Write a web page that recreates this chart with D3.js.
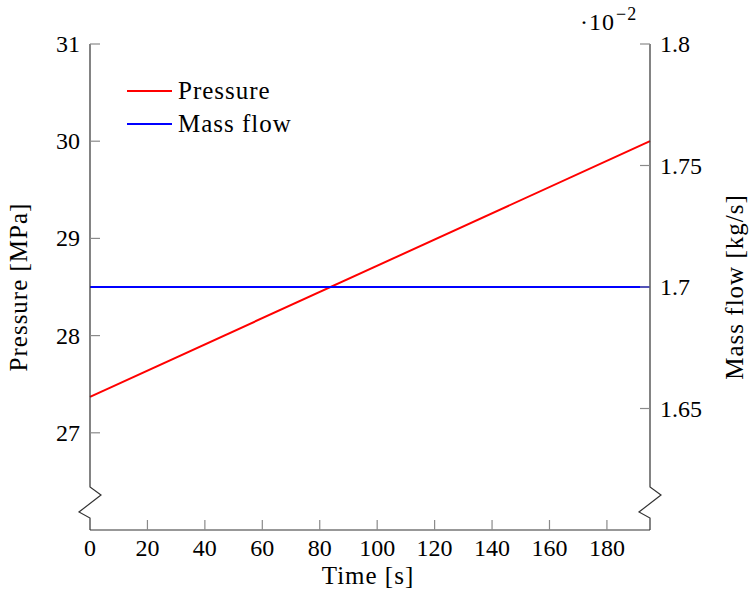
<!DOCTYPE html>
<html>
<head>
<meta charset="utf-8">
<script src="https://cdn.jsdelivr.net/npm/d3@7"></script>
<style>
  html, body { margin: 0; padding: 0; background: #fff; }
</style>
</head>
<body>
<svg id="chart" width="751" height="600"></svg>
<script>
// Time series: pressure (left axis) and mass flow (right axis)
const time = [0, 195];
const pressure = [27.37, 30.0];      // MPa
const massFlow = [0.017, 0.017];     // kg/s
const seriesNames = ["Pressure", "Mass flow"];
const seriesColors = ["#ff0000", "#0000ff"];

const xTicks = [0, 20, 40, 60, 80, 100, 120, 140, 160, 180];
const leftTicks = [27, 28, 29, 30, 31];
const rightTicks = [0.0165, 0.017, 0.0175, 0.018];

const serif = "'Liberation Serif', 'Times New Roman', serif";

const svg = d3.select("#chart");
const plot = { left: 90, right: 650, top: 44, bottom: 530 };

const x = d3.scaleLinear().domain([0, 195]).range([plot.left, plot.right]);
const yL = d3.scaleLinear().domain([26, 31]).range([plot.bottom, plot.top]);
const yR = d3.scaleLinear().domain([0.016, 0.018]).range([plot.bottom, plot.top]);

const tickFont = 24;
const textFont = 25;
const tickLen = 10;
const tickColor = "#8a8a8a";
const axisColor = "#333";

// Data lines
const pts = time.map((t, i) => ({ t, p: pressure[i], m: massFlow[i] }));
svg.append("path")
  .datum(pts)
  .attr("fill", "none")
  .attr("stroke", seriesColors[0])
  .attr("stroke-width", 2)
  .attr("d", d3.line().x(d => x(d.t)).y(d => yL(d.p)));
svg.append("path")
  .datum(pts)
  .attr("fill", "none")
  .attr("stroke", seriesColors[1])
  .attr("stroke-width", 2)
  .attr("d", d3.line().x(d => x(d.t)).y(d => yR(d.m)));

function tickLabel(sel) {
  return sel.style("font-family", serif).attr("font-size", tickFont).attr("fill", "#000");
}
function wordLabel(sel) {
  return sel.style("font-family", serif).attr("font-size", textFont)
    .attr("letter-spacing", 1).attr("fill", "#000");
}

// Bottom axis
const gx = svg.append("g");
gx.append("line")
  .attr("x1", plot.left).attr("x2", plot.right)
  .attr("y1", plot.bottom).attr("y2", plot.bottom)
  .attr("stroke", axisColor).attr("stroke-width", 1.2);
gx.selectAll("line.tick").data(xTicks.filter(v => v > 0)).join("line")
  .attr("class", "tick")
  .attr("x1", d => x(d)).attr("x2", d => x(d))
  .attr("y1", plot.bottom).attr("y2", plot.bottom - tickLen)
  .attr("stroke", tickColor).attr("stroke-width", 1.2);
gx.selectAll("text").data(xTicks).join("text")
  .call(tickLabel)
  .attr("x", d => x(d)).attr("y", plot.bottom + 26)
  .attr("text-anchor", "middle")
  .text(d => d);

// Vertical axis with a "crunch" break near the bottom
function brokenAxis(ax) {
  const brkTop = plot.bottom - 43, brkBot = plot.bottom - 12;
  const path = d3.path();
  path.moveTo(ax, plot.top);
  path.lineTo(ax, brkTop);
  path.lineTo(ax + 11, brkTop + 8);
  path.lineTo(ax - 11, brkTop + 25);
  path.lineTo(ax, brkBot);
  path.lineTo(ax, plot.bottom);
  svg.append("path").attr("d", path.toString())
    .attr("fill", "none").attr("stroke", axisColor).attr("stroke-width", 1.2);
}
brokenAxis(plot.left);
brokenAxis(plot.right);

// Left ticks and labels
svg.append("g").selectAll("line").data(leftTicks).join("line")
  .attr("x1", plot.left).attr("x2", plot.left + tickLen)
  .attr("y1", d => yL(d)).attr("y2", d => yL(d))
  .attr("stroke", tickColor).attr("stroke-width", 1.2);
svg.append("g").selectAll("text").data(leftTicks).join("text")
  .call(tickLabel)
  .attr("x", plot.left - 10).attr("y", d => yL(d) + 8)
  .attr("text-anchor", "end")
  .text(d => d);

// Right ticks and labels (shown in units of 10^-2)
const fmtR = v => String(+(v * 100).toFixed(2));
svg.append("g").selectAll("line").data(rightTicks).join("line")
  .attr("x1", plot.right).attr("x2", plot.right - tickLen)
  .attr("y1", d => yR(d)).attr("y2", d => yR(d))
  .attr("stroke", tickColor).attr("stroke-width", 1.2);
svg.append("g").selectAll("text").data(rightTicks).join("text")
  .call(tickLabel)
  .attr("x", plot.right + 10).attr("y", d => yR(d) + 8)
  .attr("text-anchor", "start")
  .text(fmtR);

// Scale factor label
const exp = svg.append("text").call(tickLabel).attr("x", 580).attr("y", 30)
  .attr("letter-spacing", 1);
exp.append("tspan").text("·10");
exp.append("tspan").attr("dx", 1).attr("dy", -10).attr("font-size", 18).text("−2");

// Axis titles
svg.append("text").call(wordLabel)
  .attr("x", 368).attr("y", 584)
  .attr("text-anchor", "middle")
  .text("Time [s]");
svg.append("text").call(wordLabel)
  .attr("transform", `translate(27,${(plot.top + plot.bottom) / 2}) rotate(-90)`)
  .attr("text-anchor", "middle")
  .text("Pressure [MPa]");
svg.append("text").call(wordLabel)
  .attr("transform", `translate(743,${(plot.top + plot.bottom) / 2}) rotate(-90)`)
  .attr("text-anchor", "middle")
  .text("Mass flow [kg/s]");

// Legend
const legend = svg.append("g");
seriesNames.forEach((name, i) => {
  const ly = 91 + i * 33;
  legend.append("line")
    .attr("x1", 127).attr("x2", 172).attr("y1", ly).attr("y2", ly)
    .attr("stroke", seriesColors[i]).attr("stroke-width", 2);
  legend.append("text").call(wordLabel)
    .attr("x", 178).attr("y", ly + 8)
    .text(name);
});
</script>
</body>
</html>
